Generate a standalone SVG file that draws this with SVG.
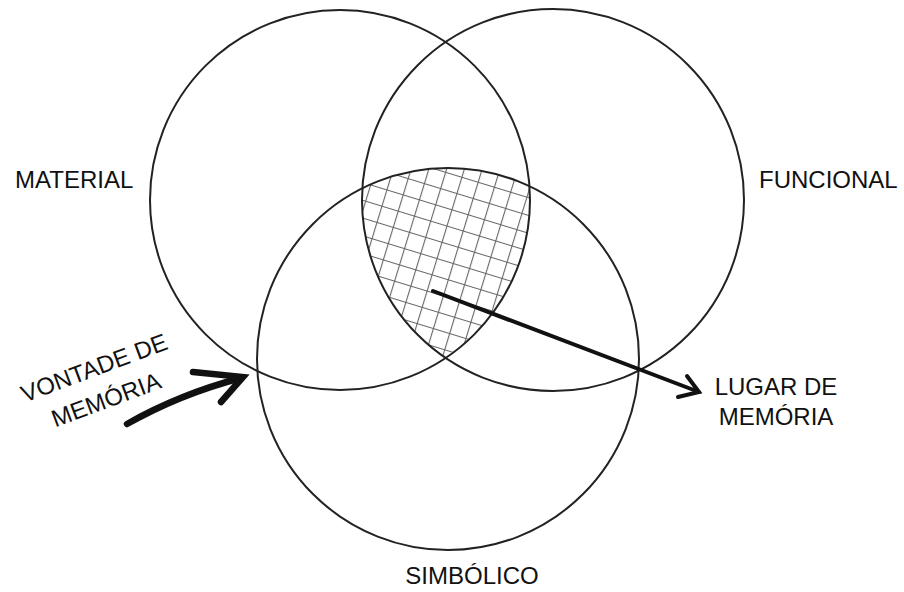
<svg xmlns="http://www.w3.org/2000/svg" width="904" height="592" viewBox="0 0 904 592">
<style>
.c{fill:none;stroke:#222;stroke-width:2}
.t{font-family:"Liberation Sans",Arial,sans-serif;font-size:24px;fill:#111}
.a{fill:none;stroke:#111;stroke-linecap:round;stroke-linejoin:miter}
</style>
<defs>
<pattern id="grid" width="17" height="17" patternUnits="userSpaceOnUse" patternTransform="rotate(17)">
<path d="M0 0.5H17M0.5 0V17" stroke="#666" stroke-width="1.2" fill="none"/>
</pattern>
<clipPath id="cA"><circle cx="340" cy="200" r="190"/></clipPath>
<clipPath id="cB"><circle cx="553" cy="200" r="191"/></clipPath>
<clipPath id="cC"><circle cx="448" cy="359" r="191"/></clipPath>
</defs>
<rect width="904" height="592" fill="#fff"/>
<g id="hatch" clip-path="url(#cA)"><g clip-path="url(#cB)"><g clip-path="url(#cC)">
<rect x="300" y="100" width="300" height="300" fill="url(#grid)"/>
</g></g></g>
<g id="material"><circle class="c" cx="340" cy="200" r="190"/><text class="t" x="15" y="188">MATERIAL</text></g>
<g id="funcional"><circle class="c" cx="553" cy="200" r="191"/><text class="t" x="759" y="188">FUNCIONAL</text></g>
<g id="simbolico"><circle class="c" cx="448" cy="359" r="191"/><text class="t" x="472" y="584" text-anchor="middle">SIMBÓLICO</text></g>
<g id="lugar"><text class="t" x="776" y="395" text-anchor="middle">LUGAR DE</text><text class="t" x="776" y="425" text-anchor="middle">MEMÓRIA</text></g>
<g id="vontade" transform="translate(24,403) rotate(-20.5)"><text class="t" x="78" y="0" text-anchor="middle">VONTADE DE</text><text class="t" x="78" y="34" text-anchor="middle">MEMÓRIA</text></g>
<g id="connectors">
<path class="a" stroke-width="4" d="M433 291L699 392"/>
<path class="a" stroke-width="4" d="M687 376L699 392L678 397"/>
<path class="a" stroke-width="6.5" d="M127 424Q180 394 241 378"/>
<path class="a" stroke-width="6.5" d="M193 372L243 377L221 402"/>
</g>
</svg>
